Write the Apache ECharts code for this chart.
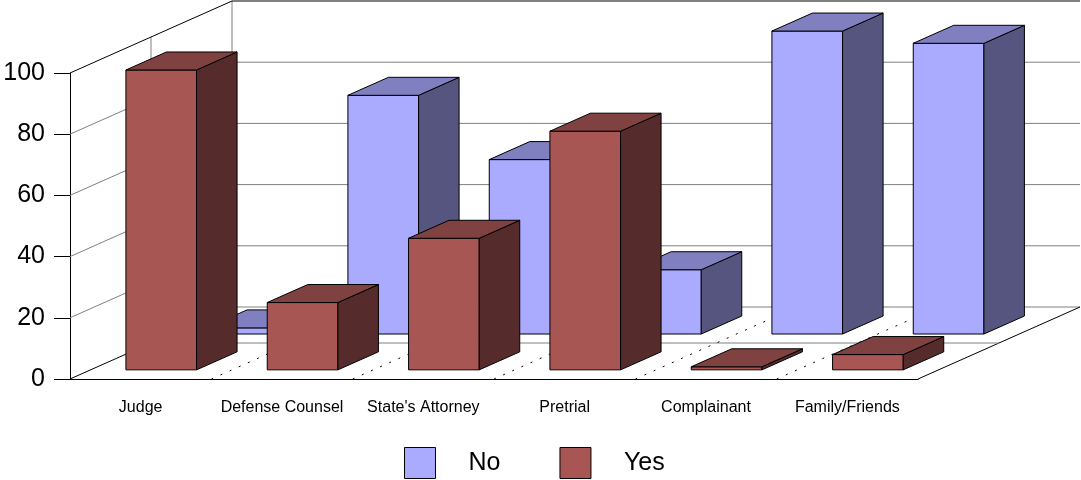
<!DOCTYPE html>
<html><head><meta charset="utf-8">
<script src="https://cdn.jsdelivr.net/npm/echarts@6/dist/echarts.min.js"></script>
<style>html,body{margin:0;padding:0;background:#fff}#c{width:1081px;height:480px}</style>
</head><body><div id="c"></div>
<script>
const categories = ['Judge', 'Defense Counsel', "State's Attorney", 'Pretrial', 'Complainant', 'Family/Friends'];
const noValues = [2, 78, 57, 21, 99, 95];
const yesValues = [98, 22, 43, 78, 1, 5];
const yTicks = [0, 20, 40, 60, 80, 100];
const seriesNames = ['No', 'Yes'];

const DX = 162, DY = -72;          // full depth of the 3D box (px)
const BAR_DEPTH = 0.25;            // bar depth as fraction of full depth
const ROW_FRONT = { No: 0.625, Yes: 0.127 };
const COLORS = {
  No:  { front: '#AAAAFF', top: '#8080C0', side: '#555580' },
  Yes: { front: '#A85654', top: '#804141', side: '#552B2B' }
};
const GRID_GRAY = '#808080';

const chart = echarts.init(document.getElementById('c'), null, { renderer: 'canvas' });

function line(x1, y1, x2, y2, color, dash) {
  return { type: 'line', shape: { x1, y1, x2, y2 },
    style: { stroke: color, lineWidth: 1, lineDash: dash || null } };
}

function frameRender(params, api) {
  const v = api.value(1);
  const n = categories.length;
  const band = api.size([1, 0])[0];
  const p0 = api.coord([0, v]);
  const xL = p0[0] - band / 2;
  const xR = api.coord([n - 1, v])[0] + band / 2;
  const y = p0[1];
  const vMax = yTicks[yTicks.length - 1];
  const vMin = yTicks[0];
  const edge = (v === vMin || v === vMax) ? '#000' : GRID_GRAY;
  const ch = [];
  ch.push(line(xL, y, xL + DX, y + DY, edge));
  ch.push(line(xL + DX, y + DY, xR + DX, y + DY, v === vMax ? '#000' : GRID_GRAY));
  if (v === vMin) {
    const yTop = api.coord([0, vMax])[1];
    ch.push(line(xR, y, xR + DX, y + DY, '#000'));
    ch.push(line(xL + DX / 2, y + DY / 2, xR + DX / 2, y + DY / 2, GRID_GRAY));
    ch.push(line(xL + DX / 2, y + DY / 2, xL + DX / 2, yTop + DY / 2, GRID_GRAY));
    ch.push(line(xL + DX, y + DY, xL + DX, yTop + DY, GRID_GRAY));
  }
  return { type: 'group', children: ch };
}

function dividerRender(params, api) {
  const band = api.size([1, 0])[0];
  const p = api.coord([api.value(0), yTicks[0]]);
  const x = p[0] - band / 2;
  return line(x, p[1], x + DX, p[1] + DY, '#000', [2, 8]);
}

function barRender(row) {
  const c = COLORS[row];
  const t0 = ROW_FRONT[row];
  return function (params, api) {
    const i = api.value(0), v = api.value(1);
    const base = api.coord([i, 0]);
    const top = api.coord([i, v]);
    const w = api.size([1, 0])[0] * 0.5;
    const ox = DX * t0, oy = DY * t0;
    const dx = DX * BAR_DEPTH, dy = DY * BAR_DEPTH;
    const x0 = base[0] - w / 2 + ox, x1 = x0 + w;
    const yb = base[1] + oy, yt = top[1] + oy;
    const st = { stroke: '#000', lineWidth: 1, lineJoin: 'round' };
    return { type: 'group', children: [
      { type: 'polygon', shape: { points: [[x0, yb], [x1, yb], [x1, yt], [x0, yt]] }, style: Object.assign({ fill: c.front }, st) },
      { type: 'polygon', shape: { points: [[x1, yb], [x1 + dx, yb + dy], [x1 + dx, yt + dy], [x1, yt]] }, style: Object.assign({ fill: c.side }, st) },
      { type: 'polygon', shape: { points: [[x0, yt], [x1, yt], [x1 + dx, yt + dy], [x0 + dx, yt + dy]] }, style: Object.assign({ fill: c.top }, st) }
    ] };
  };
}

const option = {
  animation: false,
  backgroundColor: '#fff',
  textStyle: { fontFamily: '"Liberation Sans", Arial, sans-serif' },
  grid: { left: 70, right: 163, top: 73, bottom: 101, containLabel: false, outerBoundsMode: 'none' },
  legend: {
    left: 404, top: 447, padding: 0,
    itemWidth: 31, itemHeight: 31, itemGap: 59,
    icon: 'rect',
    selectedMode: false,
    textStyle: { fontSize: 25, color: '#000', padding: [5, 0, 0, 28] },
    data: seriesNames.map(n => ({ name: n, itemStyle: { color: COLORS[n].front, borderColor: '#000', borderWidth: 1 } }))
  },
  xAxis: {
    type: 'category', data: categories,
    axisLine: { lineStyle: { color: '#000', width: 1 } },
    axisTick: { alignWithLabel: true, length: 10, lineStyle: { color: '#000' } },
    axisLabel: { color: '#000', fontSize: 16, margin: 21, interval: 0, hideOverlap: false },
    splitLine: { show: false }
  },
  yAxis: {
    type: 'value', min: yTicks[0], max: yTicks[yTicks.length - 1], interval: 20,
    axisLine: { show: true, lineStyle: { color: '#000', width: 1 } },
    axisTick: { show: true, length: 16, lineStyle: { color: '#000' } },
    axisLabel: { color: '#000', fontSize: 25, margin: 25 },
    splitLine: { show: false }
  },
  series: [
    { type: 'custom', name: 'frame', silent: true, z: 1, clip: false,
      renderItem: frameRender, encode: { x: 0, y: 1 },
      data: yTicks.map(v => [0, v]) },
    { type: 'custom', name: 'dividers', silent: true, z: 1, clip: false,
      renderItem: dividerRender, encode: { x: 0, y: 1 },
      data: categories.slice(1).map((c, i) => [i + 1, 0]) },
    { type: 'custom', name: 'No', z: 2, clip: false,
      itemStyle: { color: COLORS.No.front },
      renderItem: barRender('No'), encode: { x: 0, y: 1 },
      data: noValues.map((v, i) => [i, v]) },
    { type: 'custom', name: 'Yes', z: 3, clip: false,
      itemStyle: { color: COLORS.Yes.front },
      renderItem: barRender('Yes'), encode: { x: 0, y: 1 },
      data: yesValues.map((v, i) => [i, v]) }
  ]
};
chart.setOption(option);
</script>
</body></html>
